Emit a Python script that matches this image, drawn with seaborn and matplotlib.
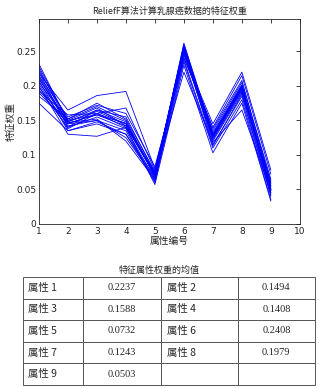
import numpy as np
import pandas as pd
import seaborn as sns
import matplotlib.pyplot as plt

# ---------------------------------------------------------
# Data: ReliefF weights from repeated runs
# ---------------------------------------------------------
attr_ids = [1, 2, 3, 4, 5, 6, 7, 8, 9]
run_01 = [0.232, 0.148, 0.163, 0.145, 0.070, 0.262, 0.130, 0.200, 0.050]
run_02 = [0.228, 0.150, 0.168, 0.142, 0.072, 0.258, 0.128, 0.198, 0.048]
run_03 = [0.225, 0.145, 0.160, 0.140, 0.075, 0.255, 0.125, 0.195, 0.055]
run_04 = [0.222, 0.152, 0.170, 0.150, 0.068, 0.250, 0.132, 0.202, 0.045]
run_05 = [0.220, 0.140, 0.155, 0.138, 0.065, 0.248, 0.120, 0.190, 0.060]
run_06 = [0.218, 0.165, 0.186, 0.192, 0.080, 0.245, 0.145, 0.220, 0.078]
run_07 = [0.215, 0.155, 0.172, 0.160, 0.083, 0.240, 0.140, 0.215, 0.072]
run_08 = [0.212, 0.142, 0.150, 0.135, 0.060, 0.252, 0.115, 0.185, 0.040]
run_09 = [0.210, 0.148, 0.165, 0.148, 0.073, 0.256, 0.127, 0.196, 0.052]
run_10 = [0.208, 0.135, 0.145, 0.130, 0.062, 0.235, 0.110, 0.180, 0.035]
run_11 = [0.205, 0.150, 0.158, 0.142, 0.070, 0.260, 0.128, 0.200, 0.050]
run_12 = [0.203, 0.138, 0.160, 0.168, 0.078, 0.242, 0.135, 0.205, 0.065]
run_13 = [0.200, 0.130, 0.127, 0.140, 0.057, 0.230, 0.103, 0.175, 0.033]
run_14 = [0.198, 0.145, 0.150, 0.125, 0.066, 0.250, 0.122, 0.192, 0.045]
run_15 = [0.195, 0.140, 0.165, 0.155, 0.074, 0.258, 0.126, 0.198, 0.055]
run_16 = [0.192, 0.158, 0.160, 0.145, 0.071, 0.220, 0.118, 0.165, 0.048]
run_17 = [0.190, 0.147, 0.152, 0.120, 0.064, 0.253, 0.130, 0.200, 0.062]
run_18 = [0.185, 0.152, 0.175, 0.152, 0.076, 0.247, 0.138, 0.208, 0.058]
run_19 = [0.175, 0.135, 0.148, 0.130, 0.068, 0.238, 0.113, 0.188, 0.042]
run_20 = [0.214, 0.146, 0.158, 0.146, 0.069, 0.254, 0.124, 0.194, 0.050]
runs = [run_01, run_02, run_03, run_04, run_05, run_06, run_07, run_08, run_09, run_10,
        run_11, run_12, run_13, run_14, run_15, run_16, run_17, run_18, run_19, run_20]

# Mean weights shown in the table
table_labels = ["属性 1", "属性 2", "属性 3", "属性 4", "属性 5",
                "属性 6", "属性 7", "属性 8", "属性 9"]
table_means = ["0.2237", "0.1494", "0.1588", "0.1408", "0.0732",
               "0.2408", "0.1243", "0.1979", "0.0503"]

x_ticks = [1, 2, 3, 4, 5, 6, 7, 8, 9, 10]
y_ticks = [0, 0.05, 0.1, 0.15, 0.2, 0.25]
y_tick_labels = ["0", "0.05", "0.1", "0.15", "0.2", "0.25"]

long_df = pd.DataFrame(
    [(i, a, w) for i, r in enumerate(runs) for a, w in zip(attr_ids, r)],
    columns=["run", "attr", "weight"],
)

# ---------------------------------------------------------
# Style
# ---------------------------------------------------------
sns.set_style("white")
plt.rcParams["font.family"] = ["Noto Sans CJK SC", "DejaVu Sans"]

fig = plt.figure(figsize=(3.19, 3.88), dpi=100)
ax = fig.add_axes([0.122, 0.423, 0.818, 0.528])

sns.lineplot(
    data=long_df, x="attr", y="weight", units="run", estimator=None,
    color="#0000ff", linewidth=0.6, ax=ax, legend=False,
)

ax.set_xlim(1, 10)
ax.set_ylim(0, 0.297)
ax.set_xticks(x_ticks)
ax.set_xticklabels([str(t) for t in x_ticks], family=["DejaVu Sans"])
ax.set_yticks(y_ticks)
ax.set_yticklabels(y_tick_labels, family=["DejaVu Sans"])
ax.tick_params(direction="in", top=True, right=True, length=3, width=0.6,
               labelsize=6.5, pad=2, colors="#222222")
for s in ax.spines.values():
    s.set_linewidth(0.6)
    s.set_color("#222222")

ax.set_title("ReliefF算法计算乳腺癌数据的特征权重", fontsize=6.5, pad=4)
ax.set_xlabel("属性编号", fontsize=7, labelpad=0)
ax.set_ylabel("特征权重", fontsize=7, labelpad=0)

# ---------------------------------------------------------
# Table of mean weights
# ---------------------------------------------------------
fig.text(0.5, 0.304, "特征属性权重的均值", ha="center", va="center", fontsize=6.5)

cells = []
for r in range(5):
    row = []
    for c in range(2):
        k = r * 2 + c
        if k < len(table_labels):
            row += [table_labels[k], table_means[k]]
        else:
            row += ["", ""]
    cells.append(row)

tax = fig.add_axes([0.072, 0.008, 0.915, 0.278])
tax.axis("off")
tbl = tax.table(cellText=cells, bbox=[0, 0, 1, 1],
                colWidths=[60, 78, 77, 77], cellLoc="center")
tbl.auto_set_font_size(False)
for (r, c), cell in tbl.get_celld().items():
    cell.set_linewidth(0.7)
    cell.set_edgecolor("#555555")
    txt = cell.get_text()
    txt.set_fontsize(7.5)
    if c in (0, 2):
        cell.set_text_props(ha="left", family=["Noto Sans CJK SC", "DejaVu Sans"])
        cell.PAD = 0.08
    else:
        cell.set_text_props(family=["Liberation Serif"])
        if c == 3:
            cell.set_text_props(ha="center")

fig.savefig("out.png", dpi=100)
